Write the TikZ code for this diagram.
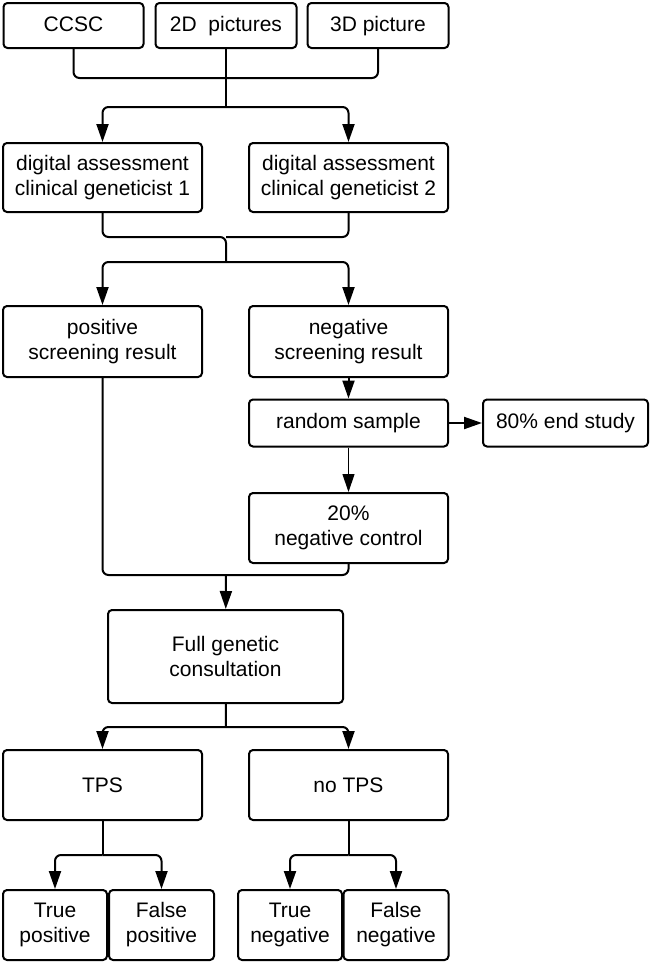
\documentclass[tikz,border=0pt]{standalone}
\usepackage{fontspec}
\setmainfont{Liberation Sans}
\usetikzlibrary{arrows.meta}

\begin{document}
\begin{tikzpicture}[x=1pt,y=-1pt,
	box/.style={shape=rectangle,draw=black,line width=2pt,rounded corners=4pt,align=center,inner sep=2pt,font=\fontsize{21}{25}\selectfont},
	srcbox/.style={box,text height=15pt,text depth=3pt},
	line/.style={line width=2pt,rounded corners=6pt},
	arrow/.style={line,-{Triangle[length=18pt,width=12pt]}}]
	\useasboundingbox (0,0) rectangle (650,964);

	% sources
	\node[srcbox,minimum width=140pt,minimum height=45pt] (ccsc) at (73.5, 25.5)  {CCSC};
	\node[srcbox,minimum width=141pt,minimum height=45pt] (pic2d) at (226, 25.5) {2D\ \ pictures};
	\node[srcbox,minimum width=141pt,minimum height=45pt] (pic3d) at (378, 25.5) {3D picture};

	% assessment
	\node[box,minimum width=199pt,minimum height=69pt] (da1) at (102.5, 177.5) {digital assessment\\clinical geneticist 1};
	\node[box,minimum width=199pt,minimum height=69pt] (da2) at (348.5, 177.5) {digital assessment\\clinical geneticist 2};

	% screening
	\node[box,minimum width=199pt,minimum height=71pt] (pos) at (102.5, 341.5)  {positive\\screening result};
	\node[box,minimum width=199pt,minimum height=71pt] (neg) at (348.5, 341.5)  {negative\\screening result};
	\node[box,minimum width=199pt,minimum height=47pt] (rand) at (348.5, 423)   {random sample};
	\node[box,minimum width=165pt,minimum height=47pt] (endst) at (565.5, 423)  {80\% end study};
	\node[box,minimum width=199pt,minimum height=70pt] (ctrl) at (348.5, 528)   {20\%\\negative control};

	% consultation
	\node[box,minimum width=235pt,minimum height=93pt] (full) at (225.5, 656.5) {Full genetic\\consultation};
	\node[box,minimum width=199pt,minimum height=70pt] (tps) at (102.5, 785)    {TPS};
	\node[box,minimum width=199pt,minimum height=70pt] (notps) at (348.5, 785)  {no TPS};

	% outcomes
	\node[box,minimum width=104pt,minimum height=70pt] (tp) at (55, 925)      {True\\positive};
	\node[box,minimum width=105pt,minimum height=70pt] (fp) at (161.5, 925)   {False\\positive};
	\node[box,minimum width=104pt,minimum height=70pt] (tn) at (290, 925)     {True\\negative};
	\node[box,minimum width=105pt,minimum height=70pt] (fn) at (396, 925)     {False\\negative};

	\coordinate (m1) at (226, 78);
	\coordinate (s1) at (226, 107);
	\coordinate (m2) at (226, 237);
	\coordinate (s2) at (226, 262);
	\coordinate (m3) at (226, 575);
	\coordinate (s4) at (226, 727);
	\coordinate (s5) at (102.5, 855);
	\coordinate (s6) at (348.5, 855);

	\draw[line] (ccsc) |- (m1);
	\draw[line] (pic3d) |- (m1);
	\draw[line] (pic2d) -- (s1);
	\draw[arrow] (s1) -| (da1);
	\draw[arrow] (s1) -| (da2);

	\draw[line] (da1) |- (m2) -- (s2);
	\draw[line] (da2) |- (m2);
	\draw[arrow] (s2) -| (pos);
	\draw[arrow] (s2) -| (neg);

	\draw[arrow] (neg) -- (rand);
	\draw[arrow] (rand) -- (endst);
	\draw[arrow,line width=1.2pt] (rand) -- (ctrl);

	\draw[line] (pos) |- (m3);
	\draw[line] (ctrl) |- (m3);
	\draw[arrow] (m3) -- (full);

	\draw[line] (full) -- (s4);
	\draw[arrow] (s4) -| (tps);
	\draw[arrow] (s4) -| (notps);

	\draw[line] (tps) -- (s5);
	\draw[arrow] (s5) -| (tp);
	\draw[arrow] (s5) -| (fp);

	\draw[line] (notps) -- (s6);
	\draw[arrow] (s6) -| (tn);
	\draw[arrow] (s6) -| (fn);
\end{tikzpicture}
\end{document}
